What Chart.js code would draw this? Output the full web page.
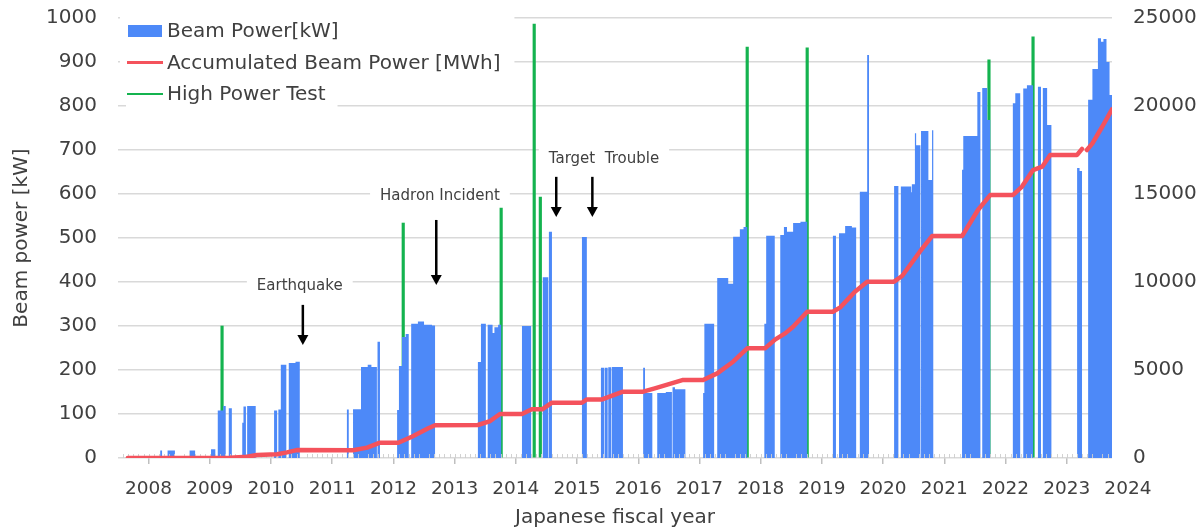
<!DOCTYPE html>
<html>
<head>
<meta charset="utf-8">
<title>Beam power history</title>
<script src="https://cdn.jsdelivr.net/npm/chart.js@4.4.1/dist/chart.umd.min.js"></script>
<style>
  html, body { margin: 0; padding: 0; background: #fff; }
  #wrap { width: 1203px; height: 532px; position: relative; }
</style>
</head>
<body>
<div id="wrap"><canvas id="beamChart"></canvas></div>
<script>
// fiscal year ticks (tick at the start of each fiscal year)
const fiscalYears = [2008, 2009, 2010, 2011, 2012, 2013, 2014, 2015, 2016,
                     2017, 2018, 2019, 2020, 2021, 2022, 2023, 2024];

// Beam power [kW]: each value holds from its time until the next time
const powerYear = [
  2008.00, 2008.69, 2008.72, 2008.81, 2008.93, 2009.17, 2009.26, 2009.52, 2009.59,
  2009.63, 2009.72, 2009.76, 2009.81, 2009.86, 2010.03, 2010.05, 2010.09, 2010.11, 2010.25,
  2010.55, 2010.60, 2010.62, 2010.66, 2010.75, 2010.79, 2010.90, 2010.97,
  2011.74, 2011.77, 2011.84, 2011.97, 2012.08, 2012.14, 2012.23, 2012.24, 2012.28,
  2012.56, 2012.59, 2012.64, 2012.70, 2012.75, 2012.79, 2012.90, 2013.00, 2013.13, 2013.18,
  2013.88, 2013.93, 2014.01, 2014.04, 2014.12, 2014.15, 2014.21, 2014.26,
  2014.60, 2014.75, 2014.94, 2015.03, 2015.04, 2015.09, 2015.58, 2015.66,
  2015.89, 2015.94, 2015.95, 2016.00, 2016.01, 2016.06, 2016.07, 2016.25,
  2016.58, 2016.61, 2016.73, 2016.81, 2016.95, 2017.05, 2017.06, 2017.10, 2017.27,
  2017.56, 2017.58, 2017.74, 2017.79, 2017.97, 2018.05, 2018.16, 2018.22, 2018.28,
  2018.56, 2018.59, 2018.73, 2018.82, 2018.88, 2018.93, 2019.03, 2019.15, 2019.26,
  2019.68, 2019.73, 2019.78, 2019.88, 2019.99, 2020.06, 2020.12, 2020.24, 2020.27,
  2020.68, 2020.75, 2020.79, 2020.96, 2020.97, 2021.02, 2021.04, 2021.11, 2021.12, 2021.24, 2021.30, 2021.32,
  2021.79, 2021.81, 2022.04, 2022.09, 2022.12, 2022.20, 2022.25,
  2022.62, 2022.66, 2022.74, 2022.79, 2022.85, 2022.95, 2023.03, 2023.08, 2023.11, 2023.18, 2023.25,
  2023.67, 2023.71, 2023.75, 2023.85, 2023.92, 2024.01, 2024.06, 2024.10, 2024.15, 2024.20, 2024.24
];
const powerKW = [
  0, 17, 0, 17, 0, 17, 0, 20, 0,
  108, 118, 0, 113, 0, 80, 117, 0, 118, 0,
  108, 0, 110, 212, 0, 216, 219, 0,
  110, 0, 111, 207, 212, 207, 0, 264, 0,
  109, 209, 275, 282, 0, 305, 310, 303, 301, 0,
  218, 305, 0, 303, 284, 297, 303, 0,
  300, 0, 411, 0, 514, 0, 502, 0,
  205, 0, 205, 0, 206, 0, 207, 0,
  205, 148, 0, 148, 150, 0, 161, 156, 0,
  148, 305, 0, 409, 396, 503, 520, 525, 0,
  305, 505, 0, 507, 525, 514, 534, 537, 0,
  505, 0, 511, 527, 524, 0, 605, 916, 0,
  618, 0, 617, 604, 622, 738, 711, 0, 743, 632, 745, 0,
  655, 732, 832, 0, 841, 768, 0,
  806, 829, 0, 840, 847, 0, 844, 0, 841, 757, 0,
  659, 652, 0, 814, 884, 954, 946, 952, 900, 825, 0
];

// Accumulated beam power [MWh] (null = break in the line)
const totalYear = [
  2008.16, 2009.55, 2009.83, 2010.11, 2010.27, 2010.60, 2010.76, 2010.92, 2011.84,
  2012.07, 2012.28, 2012.58, 2012.80, 2013.07, 2013.18, 2013.88, 2014.08, 2014.24,
  2014.60, 2014.76, 2014.93, 2015.09, 2015.58, 2015.66, 2015.91, 2016.25, 2016.58,
  2016.77, 2017.22, 2017.56, 2017.79, 2018.05, 2018.28, 2018.57, 2018.74, 2018.90,
  2019.03, 2019.26, 2019.68, 2019.80, 2020.04, 2020.24, 2020.68, 2020.81, 2021.10,
  2021.30, 2021.79, 2022.05, 2022.25, 2022.62, 2022.77, 2022.95, 2023.10, 2023.23,
  2023.67, 2023.75, 2023.79, 2023.83, 2023.92, 2024.08, 2024.24
];
const totalMWh = [
  0, 0, 20, 75, 170, 210, 320, 450, 440,
  590, 870, 870, 1210, 1690, 1860, 1875, 2100, 2500,
  2500, 2765, 2765, 3140, 3140, 3330, 3330, 3770, 3770,
  3960, 4430, 4430, 4810, 5470, 6230, 6230, 6740, 7080,
  7460, 8310, 8310, 8560, 9450, 10020, 10020, 10340, 11720,
  12610, 12610, 14090, 14940, 14940, 15420, 16360, 16550, 17220,
  17220, 17560, null, 17500, 17880, 18820, 19810
];

// High power test shots [kW]
const testYear = [2009.70, 2012.66, 2014.26, 2014.80, 2014.90, 2018.28, 2019.26, 2022.23, 2022.95];
const testKW = [300, 534, 568, 986, 593, 934, 932, 905, 957];

const eventLabels = ['Earthquake', 'Hadron Incident', 'Target  Trouble'];

// where the event notes sit (x in fiscal years, y in kW)
const eventNotes = [
  { text: eventLabels[0], x: 2010.97, y: 391, arrows: [2011.02], top: 348, bottom: 257 },
  { text: eventLabels[1], x: 2013.26, y: 595, arrows: [2013.20], top: 541, bottom: 393 },
  { text: eventLabels[2], x: 2015.94, y: 680, arrows: [2015.16, 2015.75], top: 639, bottom: 548 }
];

const textColor = '#404040';
const gridColor = '#d9d9d9';
const fontFamily = "'DejaVu Sans', Verdana, sans-serif";

Chart.defaults.font.family = fontFamily;
Chart.defaults.color = textColor;

// --- white boxes + text for event notes, under the data ---
const notesPlugin = {
  id: 'eventNotes',
  beforeDatasetsDraw(chart) {
    const { ctx, scales: { x, y } } = chart;
    ctx.save();
    ctx.font = '15px ' + fontFamily;
    ctx.textAlign = 'center';
    ctx.textBaseline = 'middle';
    eventNotes.forEach(n => {
      const cx = x.getPixelForValue(n.x);
      const cy = y.getPixelForValue(n.y);
      const w = ctx.measureText(n.text).width;
      ctx.fillStyle = '#fff';
      ctx.fillRect(cx - w / 2 - 10, cy - 12, w + 20, 24);
      ctx.fillStyle = textColor;
      ctx.fillText(n.text, cx, cy);
    });
    ctx.restore();
  },
  afterDatasetsDraw(chart) {
    const { ctx, scales: { x, y } } = chart;
    ctx.save();
    ctx.strokeStyle = '#000';
    ctx.fillStyle = '#000';
    ctx.lineWidth = 2.5;
    eventNotes.forEach(n => {
      const y1 = y.getPixelForValue(n.top);
      const y2 = y.getPixelForValue(n.bottom);
      n.arrows.forEach(ax => {
        const px = x.getPixelForValue(ax);
        ctx.beginPath();
        ctx.moveTo(px, y1);
        ctx.lineTo(px, y2 - 8);
        ctx.stroke();
        ctx.beginPath();
        ctx.moveTo(px - 5.5, y2 - 10);
        ctx.lineTo(px + 5.5, y2 - 10);
        ctx.lineTo(px, y2);
        ctx.closePath();
        ctx.fill();
      });
    });
    ctx.restore();
  }
};

// --- monthly minor ticks along the base line ---
const minorTicksPlugin = {
  id: 'minorTicks',
  afterDatasetDraw(chart, args) {
    if (args.index !== 0) return;
    const { ctx, scales: { x, y } } = chart;
    const base = y.getPixelForValue(0);
    ctx.save();
    ctx.strokeStyle = 'rgba(205,205,205,0.9)';
    ctx.lineWidth = 1;
    for (let m = 1; fiscalYears[0] + m / 12 < x.max; m++) {
      if (m % 12 === 0) continue;
      const px = Math.round(x.getPixelForValue(fiscalYears[0] + m / 12)) + 0.5;
      ctx.beginPath();
      ctx.moveTo(px, base);
      ctx.lineTo(px, base - 4);
      ctx.stroke();
    }
    ctx.restore();
  }
};

// --- legend drawn inside the plot, top-left ---
const legendPlugin = {
  id: 'boxLegend',
  afterDatasetsDraw(chart) {
    const { ctx, chartArea } = chart;
    const ds = chart.data.datasets;
    const left = chartArea.left, top = chartArea.top;
    ctx.save();
    ctx.font = '20px ' + fontFamily;
    ctx.textBaseline = 'middle';
    const widths = ds.map(d => ctx.measureText(d.label).width);
    const textX = left + 49;
    ctx.fillStyle = '#fff';
    ctx.fillRect(left + 2, top - 8, 49 + Math.max(widths[0], widths[1]) + 12, 66);
    ctx.fillRect(left + 8, top + 58, 41 + widths[2] + 12, 32);
    ds.forEach((d, i) => {
      const cy = top + 13 + i * 31.5;
      if (i === 0) {
        ctx.fillStyle = d.backgroundColor;
        ctx.fillRect(left + 10, cy - 6, 34, 12);
      } else {
        ctx.strokeStyle = i === 1 ? d.borderColor : d.backgroundColor;
        ctx.lineWidth = i === 1 ? 3 : 2;
        ctx.beginPath();
        ctx.moveTo(left + 9, cy);
        ctx.lineTo(left + 45, cy);
        ctx.stroke();
      }
      ctx.fillStyle = textColor;
      ctx.fillText(d.label, textX, cy + 1);
    });
    ctx.restore();
  }
};

// keep the plot box fixed: axis widths set by hand, no extra label padding
const fixWidth = w => scale => {
  scale.width = w;
  scale.paddingTop = 0;
  scale.paddingBottom = 0;
};

const ctx = document.getElementById('beamChart').getContext('2d');
new Chart(ctx, {
  type: 'line',
  data: {
    datasets: [
      {
        label: 'Beam Power[kW]',
        data: powerYear.map((t, i) => ({ x: t, y: powerKW[i] })),
        stepped: true,
        fill: 'origin',
        backgroundColor: '#4d89f8',
        borderColor: 'rgba(0,0,0,0)',
        borderWidth: 0,
        pointRadius: 0,
        yAxisID: 'y',
        order: 1
      },
      {
        label: 'Accumulated Beam Power [MWh]',
        data: totalYear.map((t, i) => ({ x: t, y: totalMWh[i] })),
        borderColor: '#f4525c',
        backgroundColor: '#f4525c',
        borderWidth: 4.5,
        pointRadius: 0,
        tension: 0,
        spanGaps: false,
        borderCapStyle: 'round',
        borderJoinStyle: 'round',
        yAxisID: 'y2',
        order: 0
      },
      {
        type: 'bar',
        label: 'High Power Test',
        data: testYear.map((t, i) => ({ x: t, y: testKW[i] })),
        backgroundColor: '#14b34f',
        barThickness: 2.5,
        yAxisID: 'y',
        order: 2
      }
    ]
  },
  options: {
    responsive: true,
    maintainAspectRatio: false,
    animation: false,
    layout: { padding: { top: 18, left: 0, right: 0, bottom: 0 } },
    plugins: {
      legend: { display: false },
      tooltip: { enabled: false }
    },
    scales: {
      x: {
        type: 'linear',
        min: 2008,
        max: 2024.24,
        offset: false,
        afterBuildTicks: scale => { scale.ticks = fiscalYears.map(v => ({ value: v })); },
        afterFit: scale => { scale.height = 74; scale.paddingLeft = 0; scale.paddingRight = 0; },
        grid: { drawOnChartArea: false, drawTicks: true, tickLength: 6, color: '#bfbfbf', lineWidth: 1.5 },
        border: { display: false },
        ticks: {
          autoSkip: false,
          maxRotation: 0,
          labelOffset: 30.6,
          padding: 14,
          color: textColor,
          font: { size: 18.5 },
          callback: v => String(v)
        },
        title: {
          display: true,
          text: 'Japanese fiscal year',
          color: textColor,
          font: { size: 20 },
          padding: { top: 0, bottom: 2 }
        }
      },
      y: {
        position: 'left',
        min: 0,
        max: 1000,
        afterFit: fixWidth(118),
        ticks: { stepSize: 100, padding: 21, color: textColor, font: { size: 20 }, callback: v => String(v) },
        grid: { color: gridColor, lineWidth: 1.5, drawTicks: false },
        border: { display: false },
        title: {
          display: true,
          text: 'Beam power [kW]',
          color: textColor,
          font: { size: 20 },
          padding: { top: 10, bottom: 0 }
        }
      },
      y2: {
        position: 'right',
        min: 0,
        max: 25000,
        afterFit: fixWidth(91),
        ticks: { stepSize: 5000, padding: 21, color: textColor, font: { size: 20 }, callback: v => String(v) },
        grid: { drawOnChartArea: false, drawTicks: false },
        border: { display: false }
      }
    }
  },
  plugins: [notesPlugin, minorTicksPlugin, legendPlugin]
});
</script>
</body>
</html>
